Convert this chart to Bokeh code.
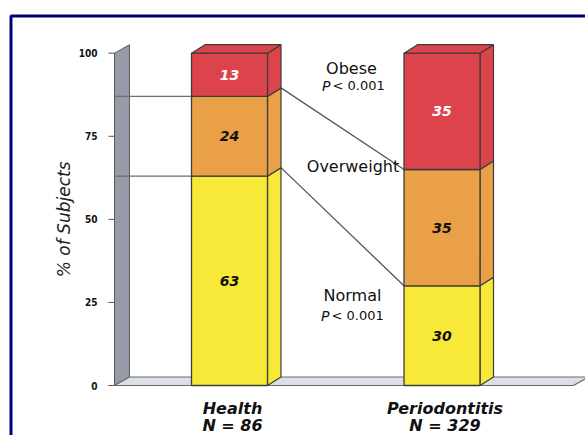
import math
from bokeh.plotting import figure
from bokeh.models import Range1d
from bokeh.core.properties import value
from bokeh.embed import file_html
from bokeh.resources import INLINE

# ---- data -------------------------------------------------------------
groups = ["Health", "Periodontitis"]
group_n = ["N = 86", "N = 329"]
classes = ["Normal", "Overweight", "Obese"]
normal = [63, 30]
overweight = [24, 35]
obese = [13, 35]
y_ticks = [0, 25, 50, 75, 100]
y_tick_labels = ["0", "25", "50", "75", "100"]
p_values = ["< 0.001", "< 0.001"]   # obese, normal

# ---- canvas geometry (pixels) -----------------------------------------
W, H = 585, 435
X0_PX = 229.0      # pixel centre of the first group
X_STEP = 212.5     # pixels between group centres
Y0_PX = 385.0      # pixel row of 0 %
Y_SCALE = 3.323    # pixels per percent


def gx(px):
    return (px - X0_PX) / X_STEP


def gy(py):
    return (Y0_PX - py) / Y_SCALE


DX = 13.5 / X_STEP          # 3-D depth, horizontal
DY = 8.5 / Y_SCALE          # 3-D depth, vertical
BAR_W = 76.0 / X_STEP

p = figure(width=W, height=H, x_range=Range1d(gx(0), gx(W)),
           y_range=Range1d(gy(H), gy(0)), x_axis_type=None, y_axis_type=None,
           min_border=0, toolbar_location=None, output_backend="svg",
           outline_line_color=None, background_fill_color="white",
           border_fill_color="white")
p.grid.visible = False

SANS = value("DejaVu Sans")
NARROW = value("Liberation Sans Narrow, DejaVu Sans Condensed, Liberation Sans, sans-serif")
EDGE = "#3c3c3c"

# ---- outer navy frame -------------------------------------------------
p.line(x=[gx(10.5), gx(10.5), gx(W + 5)], y=[gy(H + 5), gy(15.5), gy(15.5)],
       line_color="#00007f", line_width=3)

# ---- back wall and floor ----------------------------------------------
wall_x = gx(114)
wdx = 15.0 / X_STEP
wdy = 8.5 / Y_SCALE
floor_end = gx(573)
p.patch(x=[wall_x, wall_x, wall_x + wdx, wall_x + wdx],
        y=[0, 100, 100 + wdy, wdy],
        fill_color="#959ca8", line_color="#555b63", line_width=1)
p.patch(x=[wall_x, floor_end, floor_end + wdx, wall_x + wdx],
        y=[0, 0, wdy, wdy],
        fill_color="#dcdfe4", line_color="#666b72", line_width=1.2)

# ---- y ticks ----------------------------------------------------------
p.segment(x0=[gx(108)] * len(y_ticks), x1=[wall_x] * len(y_ticks),
          y0=y_ticks, y1=y_ticks, line_color="#555", line_width=1)
p.text(x=[gx(97)] * len(y_ticks), y=y_ticks, text=y_tick_labels,
       text_align="right", text_baseline="middle", text_font=NARROW,
       text_font_size="10px", text_font_style="bold", text_color="#111")
p.text(x=[gx(63.5)], y=[50], text=["% of Subjects"], angle=math.pi / 2,
       text_align="center", text_baseline="middle", text_font=SANS,
       text_font_size="17px", text_font_style="italic", text_color="#222")

# ---- stacked 3-D bars -------------------------------------------------
series = [normal, overweight, obese]
colors = ["#f8e838", "#e9a046", "#dd434b"]
label_colors = ["#111111", "#111111", "#ffffff"]

xs = list(range(len(groups)))
bottoms = [[0] * len(groups)]
for s in series:
    bottoms.append([b + v for b, v in zip(bottoms[-1], s)])

# connector lines between bars at the class boundaries
for k in (1, 2):
    b_left = bottoms[k][0]
    b_right = bottoms[k][1]
    p.line(x=[wall_x, xs[0] - BAR_W / 2], y=[b_left, b_left],
           line_color="#6e6e6e", line_width=1.3)
    p.line(x=[xs[0] + BAR_W / 2 + DX, xs[1] - BAR_W / 2],
           y=[b_left + DY, b_right], line_color="#555", line_width=1.3)

for k, (s, col) in enumerate(zip(series, colors)):
    left = [x - BAR_W / 2 for x in xs]
    right = [x + BAR_W / 2 for x in xs]
    bot = bottoms[k]
    top = bottoms[k + 1]
    side_xs = [[r, r + DX, r + DX, r] for r in right]
    side_ys = [[b, b + DY, t + DY, t] for b, t in zip(bot, top)]
    p.patches(xs=side_xs, ys=side_ys, fill_color=col, line_color=EDGE,
              line_width=1.2)
    p.quad(left=left, right=right, bottom=bot, top=top, fill_color=col,
           line_color=EDGE, line_width=1.3)
    if k == len(series) - 1:
        top_xs = [[l, l + DX, r + DX, r] for l, r in zip(left, right)]
        top_ys = [[t, t + DY, t + DY, t] for t in top]
        p.patches(xs=top_xs, ys=top_ys, fill_color=col, line_color=EDGE,
                  line_width=1.2)
    mids = [(b + t) / 2 for b, t in zip(bot, top)]
    p.text(x=xs, y=mids, text=[str(v) for v in s], text_align="center",
           text_baseline="middle", text_font=SANS, text_font_size="14px",
           text_font_style="bold italic", text_color=label_colors[k])

# ---- class annotations ------------------------------------------------
p.text(x=[gx(351), gx(352.5), gx(352)], y=[gy(68), gy(166), gy(295)],
       text=["Obese", "Overweight", "Normal"], text_align="center",
       text_baseline="middle", text_font=SANS, text_font_size="16px",
       text_color="#111")
p.text(x=[gx(330), gx(329)], y=[gy(85), gy(315)], text=["P", "P"],
       text_align="right", text_baseline="middle", text_font=SANS,
       text_font_size="14px", text_font_style="italic", text_color="#111")
p.text(x=[gx(332), gx(331)], y=[gy(85), gy(315)], text=p_values,
       text_align="left", text_baseline="middle", text_font=SANS,
       text_font_size="13px", text_color="#111")

# ---- group labels -----------------------------------------------------
off = 3.0 / X_STEP
p.text(x=[x + off for x in xs], y=[gy(408)] * len(xs), text=groups,
       text_align="center", text_baseline="middle", text_font=SANS,
       text_font_size="16px", text_font_style="bold italic", text_color="#111")
p.text(x=[x + off for x in xs], y=[gy(424.5)] * len(xs), text=group_n,
       text_align="center", text_baseline="middle", text_font=SANS,
       text_font_size="16px", text_font_style="bold italic", text_color="#111")

open("out.html", "w").write(file_html(p, INLINE))
